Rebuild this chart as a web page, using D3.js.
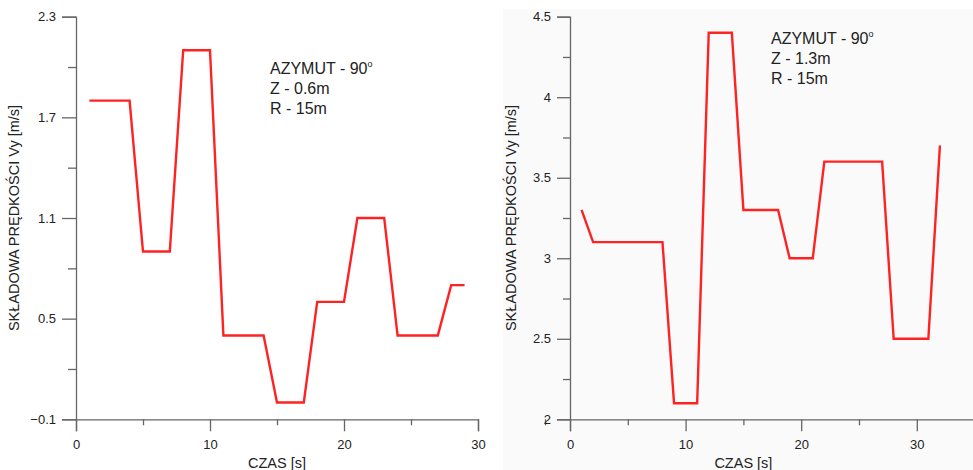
<!DOCTYPE html>
<html>
<head>
<meta charset="utf-8">
<script src="https://cdn.jsdelivr.net/npm/d3@7"></script>
<style>
  html, body { margin: 0; padding: 0; background: #ffffff; }
  svg { display: block; font-family: "Liberation Sans", Arial, sans-serif; }
</style>
</head>
<body>
<svg id="chart" width="973" height="470"></svg>
<script>
// Vy velocity component over time, two measurement heights
const timeA = [1, 4, 5, 7, 8, 10, 11, 14, 15, 17, 18, 20, 21, 23, 24, 27, 28, 29];
const vyA   = [1.8, 1.8, 0.9, 0.9, 2.1, 2.1, 0.4, 0.4, 0.0, 0.0, 0.6, 0.6, 1.1, 1.1, 0.4, 0.4, 0.7, 0.7];

const timeB = [1, 2, 8, 9, 11, 12, 14, 15, 18, 19, 21, 22, 27, 28, 31, 32];
const vyB   = [3.3, 3.1, 3.1, 2.1, 2.1, 4.4, 4.4, 3.3, 3.3, 3.0, 3.0, 3.6, 3.6, 2.5, 2.5, 3.7];

const yTicksA = [-0.1, 0.5, 1.1, 1.7, 2.3];
const yMinorA = [0.2, 0.8, 1.4, 2.0];
const yTicksB = [2, 2.5, 3, 3.5, 4, 4.5];
const yMinorB = [2.25, 2.75, 3.25, 3.75, 4.25];
const xTicks = [0, 10, 20, 30];
const xMinor = [5, 15, 25, 35];

const notesA = ["AZYMUT - 90", "Z - 0.6m", "R - 15m"];
const notesB = ["AZYMUT - 90", "Z - 1.3m", "R - 15m"];

const xTitle = "CZAS [s]";
const yTitle = "SKŁADOWA PRĘDKOŚCI Vy [m/s]";

const svg = d3.select("#chart");

// light panel behind the second chart
svg.append("rect")
  .attr("x", 503).attr("y", 9).attr("width", 470).attr("height", 461)
  .attr("fill", "#fafafa");

function panel(cfg) {
  const g = svg.append("g");
  const x = d3.scaleLinear().domain(cfg.xDomain).range(cfg.xRange);
  const y = d3.scaleLinear().domain(cfg.yDomain).range([419.3, 16.7]);
  const axisColor = "#666";

  // y axis: major + minor ticks
  const yMaj = g.append("g").attr("transform", `translate(${cfg.xRange[0]},0)`)
    .call(d3.axisLeft(y).tickValues(cfg.yTicks).tickSize(cfg.yTickLen).tickPadding(6)
      .tickFormat(d => d3.format("~g")(d)));
  const yMin = g.append("g").attr("transform", `translate(${cfg.xRange[0]},0)`)
    .call(d3.axisLeft(y).tickValues(cfg.yMinor).tickSize(cfg.yTickLen - 6).tickFormat(""));
  yMin.select(".domain").remove();

  // x axis: major + minor ticks
  const xMaj = g.append("g").attr("transform", "translate(0,419.3)")
    .call(d3.axisBottom(x).tickValues(xTicks).tickSize(12).tickPadding(8));
  const xMin = g.append("g").attr("transform", "translate(0,419.3)")
    .call(d3.axisBottom(x).tickValues(xMinor).tickSize(6).tickFormat(""));
  xMin.select(".domain").remove();

  g.selectAll(".domain").attr("stroke", axisColor).attr("stroke-width", 1.3);
  g.selectAll(".tick line").attr("stroke", axisColor).attr("stroke-width", 1.3);
  g.selectAll(".tick text").attr("fill", "#222").style("font-size", "13px")
    .style("font-family", "'Liberation Sans', Arial, sans-serif");

  // axis titles
  g.append("text")
    .attr("x", (x(0) + x(30)) / 2).attr("y", 468)
    .attr("text-anchor", "middle").attr("fill", "#222").style("font-size", "14.5px")
    .text(xTitle);
  g.append("text")
    .attr("transform", `translate(${cfg.yTitleX},218) rotate(-90)`)
    .attr("text-anchor", "middle").attr("fill", "#222").style("font-size", "14.5px")
    .text(yTitle);

  // series line
  const pts = cfg.t.map((t, i) => [t, cfg.v[i]]);
  g.append("path")
    .datum(pts)
    .attr("fill", "none")
    .attr("stroke", "#ff2222")
    .attr("stroke-width", 2.4)
    .attr("stroke-linejoin", "miter")
    .attr("d", d3.line().x(d => x(d[0])).y(d => y(d[1])));

  // annotation block
  cfg.notes.forEach((s, i) => {
    const t = g.append("text")
      .attr("x", cfg.noteX).attr("y", cfg.noteY + i * 20)
      .attr("fill", "#222").style("font-size", "16px")
      .text(s);
    if (i === 0) {
      t.append("tspan").attr("dy", -7).style("font-size", "9px").text("o");
    }
  });
}

panel({
  xDomain: [0, 30], xRange: [76, 478],
  yDomain: [-0.1, 2.3], yTicks: yTicksA, yMinor: yMinorA, yTickLen: 14,
  t: timeA, v: vyA, notes: notesA, noteX: 270, noteY: 74, yTitleX: 19
});

panel({
  xDomain: [0, 35], xRange: [570, 974.6],
  yDomain: [2, 4.5], yTicks: yTicksB, yMinor: yMinorB, yTickLen: 13,
  t: timeB, v: vyB, notes: notesB, noteX: 771, noteY: 43.5, yTitleX: 516
});
</script>
</body>
</html>
